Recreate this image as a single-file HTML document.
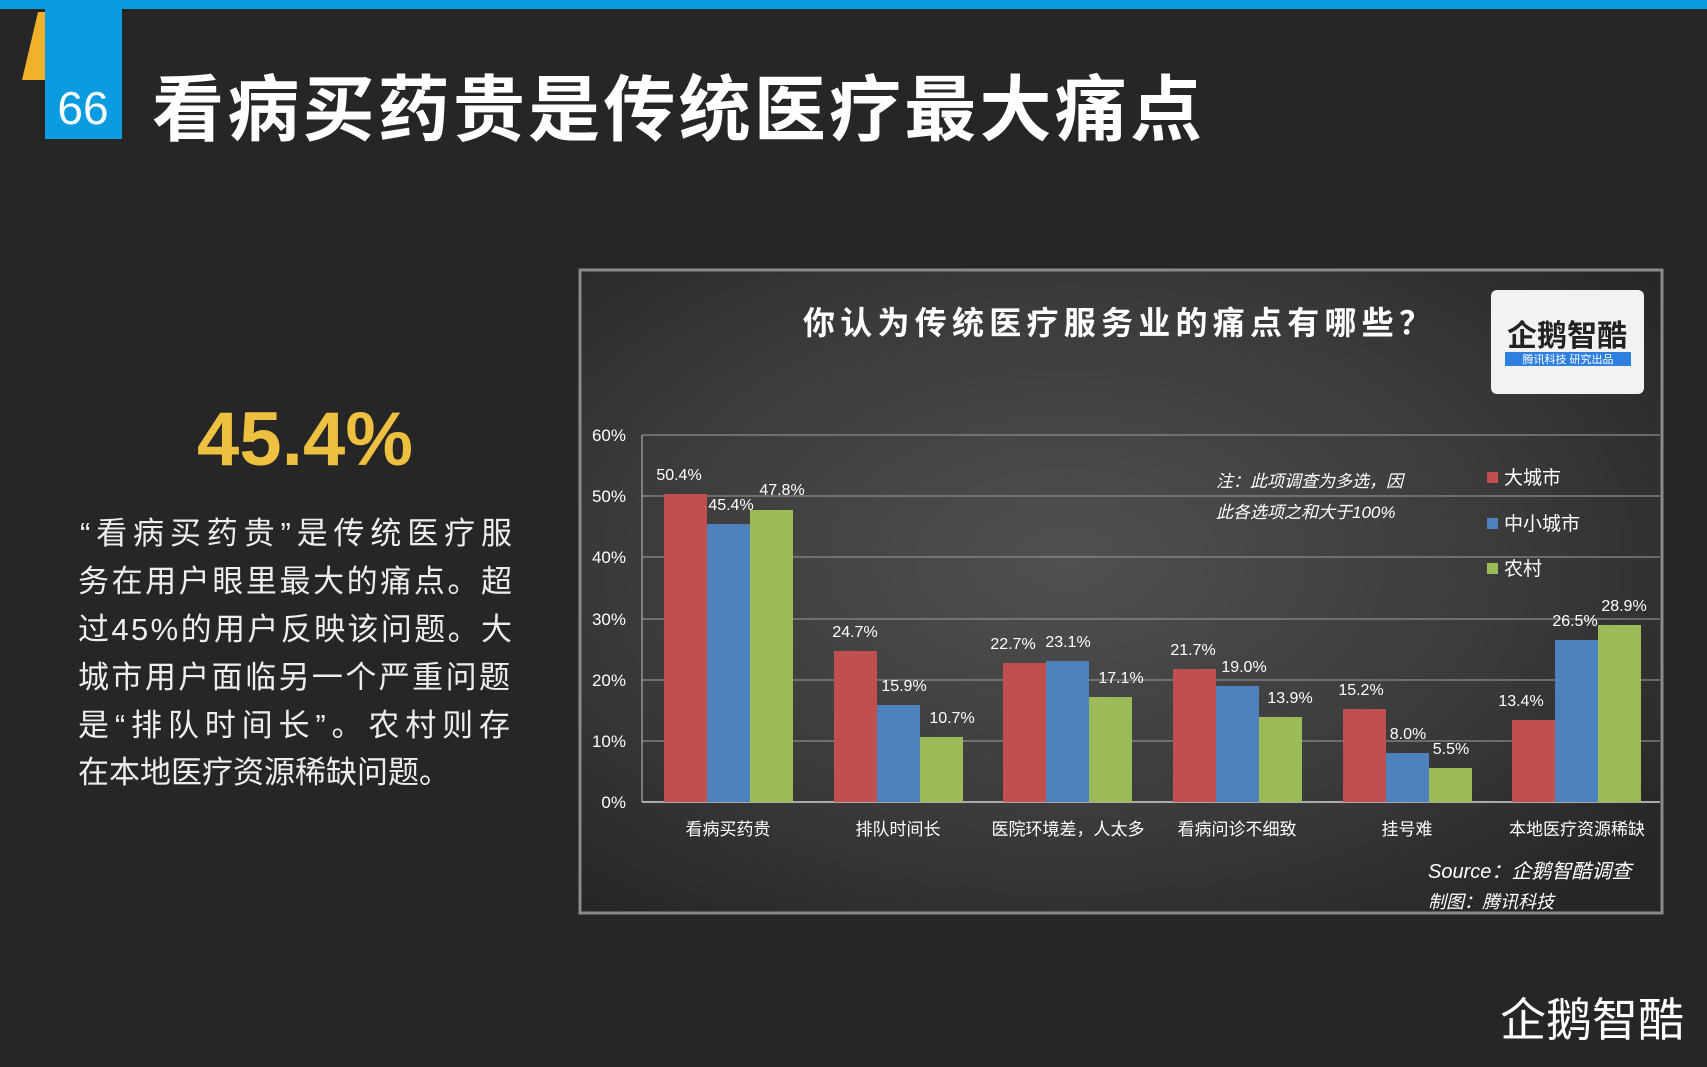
<!DOCTYPE html>
<html><head><meta charset="utf-8"><style>
html,body{margin:0;padding:0;background:#262626;}
svg{display:block;font-family:"Liberation Sans","Noto Sans CJK SC",sans-serif;}
</style></head><body>
<svg width="1707" height="1067" viewBox="0 0 1707 1067" xmlns="http://www.w3.org/2000/svg">
<defs>
<radialGradient id="cg" cx="0.45" cy="0.45" r="0.7">
<stop offset="0" stop-color="#505050"/><stop offset="0.6" stop-color="#3a3a3a"/><stop offset="1" stop-color="#262626"/>
</radialGradient>
</defs>
<rect width="1707" height="1067" fill="#262626"/>
<rect x="0" y="0" width="1707" height="9" fill="#0a9be0"/>
<polygon points="22,80 45,80 45,12 38,12" fill="#f0b22a"/>
<rect x="45" y="0" width="77" height="139" fill="#0a9be0"/>
<text x="83" y="124" font-size="46" fill="#fff" text-anchor="middle">66</text>
<text x="152" y="135" font-size="72" font-weight="bold" fill="#fff" textLength="1050">看病买药贵是传统医疗最大痛点</text>

<text x="305" y="465" font-size="76" font-weight="bold" fill="#eec03f" text-anchor="middle" textLength="216">45.4%</text>
<g font-size="31" fill="#eeeeee">
<text x="80" y="544" textLength="432">“看病买药贵”是传统医疗服</text>
<text x="78" y="592" textLength="434">务在用户眼里最大的痛点。超</text>
<text x="78" y="640" textLength="434">过45%的用户反映该问题。大</text>
<text x="78" y="688" textLength="432">城市用户面临另一个严重问题</text>
<text x="78" y="736" textLength="432">是“排队时间长”。农村则存</text>
<text x="78" y="783">在本地医疗资源稀缺问题。</text>
</g>

<rect x="580" y="270" width="1082" height="643" fill="url(#cg)" stroke="#8a8a8a" stroke-width="3"/>
<text x="803" y="334" font-size="32" font-weight="bold" fill="#fff" textLength="628">你认为传统医疗服务业的痛点有哪些？</text>
<rect x="1491" y="290" width="153" height="104" rx="6" fill="#f2f2f2"/>
<text x="1567" y="346" font-size="30" font-weight="bold" fill="#222" text-anchor="middle">企鹅智酷</text>
<rect x="1505" y="352" width="126" height="14" fill="#2f7fe0"/>
<text x="1568" y="363" font-size="11" fill="#fff" text-anchor="middle">腾讯科技  研究出品</text>

<g stroke="#8c8c8c" stroke-width="1.2">
<line x1="642" y1="435" x2="1660" y2="435"/>
<line x1="642" y1="496" x2="1660" y2="496"/>
<line x1="642" y1="557" x2="1660" y2="557"/>
<line x1="642" y1="619" x2="1660" y2="619"/>
<line x1="642" y1="680" x2="1660" y2="680"/>
<line x1="642" y1="741" x2="1660" y2="741"/>
<line x1="642" y1="802" x2="1660" y2="802" stroke="#aaa" stroke-width="2"/>
<line x1="642" y1="435" x2="642" y2="802" stroke="#aaa"/>
</g>
<g font-size="17" fill="#fff" text-anchor="end">
<text x="626" y="441">60%</text><text x="626" y="502">50%</text><text x="626" y="563">40%</text>
<text x="626" y="625">30%</text><text x="626" y="686">20%</text><text x="626" y="747">10%</text><text x="626" y="808">0%</text>
</g>

<g>
<rect x="664" y="494" width="43" height="308" fill="#c0504d"/><rect x="707" y="524" width="43" height="278" fill="#4f81bd"/><rect x="750" y="510" width="43" height="292" fill="#9bbb59"/>
<rect x="834" y="651" width="43" height="151" fill="#c0504d"/><rect x="877" y="705" width="43" height="97" fill="#4f81bd"/><rect x="920" y="737" width="43" height="65" fill="#9bbb59"/>
<rect x="1003" y="663" width="43" height="139" fill="#c0504d"/><rect x="1046" y="661" width="43" height="141" fill="#4f81bd"/><rect x="1089" y="697" width="43" height="105" fill="#9bbb59"/>
<rect x="1173" y="669" width="43" height="133" fill="#c0504d"/><rect x="1216" y="686" width="43" height="116" fill="#4f81bd"/><rect x="1259" y="717" width="43" height="85" fill="#9bbb59"/>
<rect x="1343" y="709" width="43" height="93" fill="#c0504d"/><rect x="1386" y="753" width="43" height="49" fill="#4f81bd"/><rect x="1429" y="768" width="43" height="34" fill="#9bbb59"/>
<rect x="1512" y="720" width="43" height="82" fill="#c0504d"/><rect x="1555" y="640" width="43" height="162" fill="#4f81bd"/><rect x="1598" y="625" width="43" height="177" fill="#9bbb59"/>
</g>
<g font-size="16" fill="#fff" text-anchor="middle">
<text x="679" y="480">50.4%</text><text x="731" y="510">45.4%</text><text x="782" y="495">47.8%</text>
<text x="855" y="637">24.7%</text><text x="904" y="691">15.9%</text><text x="952" y="723">10.7%</text>
<text x="1013" y="649">22.7%</text><text x="1068" y="647">23.1%</text><text x="1121" y="683">17.1%</text>
<text x="1193" y="655">21.7%</text><text x="1244" y="672">19.0%</text><text x="1290" y="703">13.9%</text>
<text x="1361" y="695">15.2%</text><text x="1408" y="739">8.0%</text><text x="1451" y="754">5.5%</text>
<text x="1521" y="706">13.4%</text><text x="1575" y="626">26.5%</text><text x="1624" y="611">28.9%</text>
</g>
<g font-size="17" fill="#fff" text-anchor="middle">
<text x="728" y="835">看病买药贵</text><text x="898" y="835">排队时间长</text><text x="1068" y="835">医院环境差，人太多</text>
<text x="1237" y="835">看病问诊不细致</text><text x="1407" y="835">挂号难</text><text x="1577" y="835">本地医疗资源稀缺</text>
</g>
<g font-size="17" fill="#fff" font-style="italic">
<text x="1216" y="487">注：此项调查为多选，因</text>
<text x="1216" y="518">此各选项之和大于100%</text>
</g>
<g font-size="19" fill="#fff">
<rect x="1487" y="472" width="11" height="11" fill="#c0504d"/><text x="1504" y="484">大城市</text>
<rect x="1487" y="518" width="11" height="11" fill="#4f81bd"/><text x="1504" y="530">中小城市</text>
<rect x="1487" y="563" width="11" height="11" fill="#9bbb59"/><text x="1504" y="575">农村</text>
</g>
<g font-size="20" fill="#fff" font-style="italic">
<text x="1428" y="878">Source：企鹅智酷调查</text>
<text x="1428" y="908" font-size="18">制图：腾讯科技</text>
</g>
<text x="1500" y="1036" font-size="46" fill="#fff">企鹅智酷</text>
</svg>
</body></html>
